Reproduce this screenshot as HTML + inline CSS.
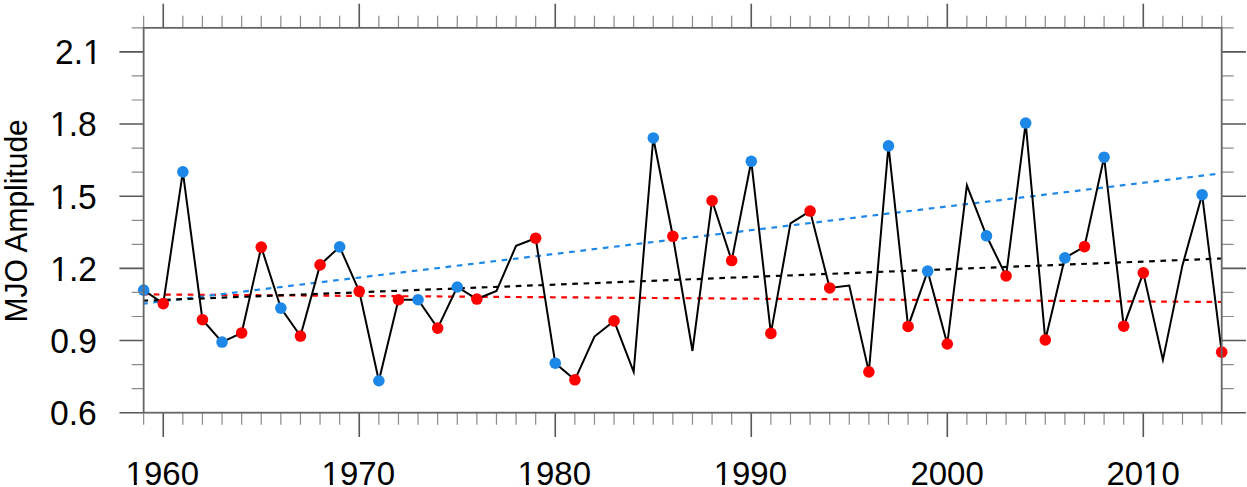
<!DOCTYPE html><html><head><meta charset="utf-8"><style>html,body{margin:0;padding:0;background:#fff;}svg{display:block;}text{font-family:"Liberation Sans",sans-serif;fill:#000;}</style></head><body>
<svg width="1247" height="487" viewBox="0 0 1247 487">
<line x1="143.65" y1="294.4" x2="1221.7" y2="302.0" stroke="#ff0000" stroke-dashoffset="1.2" stroke-dasharray="5.66 5.66" stroke-width="2.2" fill="none"/>
<line x1="143.65" y1="303.6" x2="1221.7" y2="173.3" stroke="#1e88e8" stroke-dashoffset="1.6" stroke-dasharray="5.66 5.66" stroke-width="2.2" fill="none"/>
<line x1="143.65" y1="300.7" x2="1221.7" y2="258.5" stroke="#000" stroke-dashoffset="1.2" stroke-dasharray="5.66 5.66" stroke-width="2.2" fill="none"/>
<polyline points="143.65,290.14 163.25,303.6 182.85,171.86 202.45,319.71 222.05,342.06 241.65,332.93 261.26,247.1 280.86,308.17 300.46,336.05 320.06,264.89 339.66,246.86 359.26,291.34 378.86,380.77 398.46,299.75 418.06,299.75 437.66,328.12 457.26,287.01 476.87,299.03 496.47,290.86 516.07,245.9 535.67,238.21 555.27,363.22 574.87,379.81 594.47,336.53 614.07,320.91 633.67,371.87 653.27,137.96 672.87,236.29 692.48,350.96 712.08,200.71 731.68,260.57 751.28,161.28 770.88,333.41 790.48,223.31 810.08,211.04 829.68,287.97 849.28,285.57 868.88,371.87 888.48,145.9 908.09,326.44 927.69,271.14 947.29,343.99 966.89,185.32 986.49,235.81 1006.09,275.95 1025.69,123.06 1045.29,339.9 1064.89,257.92 1084.49,246.62 1104.09,157.2 1123.7,326.2 1143.3,272.83 1162.9,359.85 1182.5,265.13 1202.1,194.7 1221.7,352.16" fill="none" stroke="#000" stroke-width="2" stroke-linejoin="miter" stroke-miterlimit="5"/>
<circle cx="143.65" cy="290.14" r="5.8" fill="#1e88e8"/>
<circle cx="163.25" cy="303.6" r="5.8" fill="#ff0000"/>
<circle cx="182.85" cy="171.86" r="5.8" fill="#1e88e8"/>
<circle cx="202.45" cy="319.71" r="5.8" fill="#ff0000"/>
<circle cx="222.05" cy="342.06" r="5.8" fill="#1e88e8"/>
<circle cx="241.65" cy="332.93" r="5.8" fill="#ff0000"/>
<circle cx="261.26" cy="247.1" r="5.8" fill="#ff0000"/>
<circle cx="280.86" cy="308.17" r="5.8" fill="#1e88e8"/>
<circle cx="300.46" cy="336.05" r="5.8" fill="#ff0000"/>
<circle cx="320.06" cy="264.89" r="5.8" fill="#ff0000"/>
<circle cx="339.66" cy="246.86" r="5.8" fill="#1e88e8"/>
<circle cx="359.26" cy="291.34" r="5.8" fill="#ff0000"/>
<circle cx="378.86" cy="380.77" r="5.8" fill="#1e88e8"/>
<circle cx="398.46" cy="299.75" r="5.8" fill="#ff0000"/>
<circle cx="418.06" cy="299.75" r="5.8" fill="#1e88e8"/>
<circle cx="437.66" cy="328.12" r="5.8" fill="#ff0000"/>
<circle cx="457.26" cy="287.01" r="5.8" fill="#1e88e8"/>
<circle cx="476.87" cy="299.03" r="5.8" fill="#ff0000"/>
<circle cx="535.67" cy="238.21" r="5.8" fill="#ff0000"/>
<circle cx="555.27" cy="363.22" r="5.8" fill="#1e88e8"/>
<circle cx="574.87" cy="379.81" r="5.8" fill="#ff0000"/>
<circle cx="614.07" cy="320.91" r="5.8" fill="#ff0000"/>
<circle cx="653.27" cy="137.96" r="5.8" fill="#1e88e8"/>
<circle cx="672.87" cy="236.29" r="5.8" fill="#ff0000"/>
<circle cx="712.08" cy="200.71" r="5.8" fill="#ff0000"/>
<circle cx="731.68" cy="260.57" r="5.8" fill="#ff0000"/>
<circle cx="751.28" cy="161.28" r="5.8" fill="#1e88e8"/>
<circle cx="770.88" cy="333.41" r="5.8" fill="#ff0000"/>
<circle cx="810.08" cy="211.04" r="5.8" fill="#ff0000"/>
<circle cx="829.68" cy="287.97" r="5.8" fill="#ff0000"/>
<circle cx="868.88" cy="371.87" r="5.8" fill="#ff0000"/>
<circle cx="888.48" cy="145.9" r="5.8" fill="#1e88e8"/>
<circle cx="908.09" cy="326.44" r="5.8" fill="#ff0000"/>
<circle cx="927.69" cy="271.14" r="5.8" fill="#1e88e8"/>
<circle cx="947.29" cy="343.99" r="5.8" fill="#ff0000"/>
<circle cx="986.49" cy="235.81" r="5.8" fill="#1e88e8"/>
<circle cx="1006.09" cy="275.95" r="5.8" fill="#ff0000"/>
<circle cx="1025.69" cy="123.06" r="5.8" fill="#1e88e8"/>
<circle cx="1045.29" cy="339.9" r="5.8" fill="#ff0000"/>
<circle cx="1064.89" cy="257.92" r="5.8" fill="#1e88e8"/>
<circle cx="1084.49" cy="246.62" r="5.8" fill="#ff0000"/>
<circle cx="1104.09" cy="157.2" r="5.8" fill="#1e88e8"/>
<circle cx="1123.7" cy="326.2" r="5.8" fill="#ff0000"/>
<circle cx="1143.3" cy="272.83" r="5.8" fill="#ff0000"/>
<circle cx="1202.1" cy="194.7" r="5.8" fill="#1e88e8"/>
<circle cx="1221.7" cy="352.16" r="5.8" fill="#ff0000"/>
<path d="M143.65 412.7V424.7M143.65 27.85V15.85M182.85 412.7V424.7M182.85 27.85V15.85M202.45 412.7V424.7M202.45 27.85V15.85M222.05 412.7V424.7M222.05 27.85V15.85M241.65 412.7V424.7M241.65 27.85V15.85M261.26 412.7V424.7M261.26 27.85V15.85M280.86 412.7V424.7M280.86 27.85V15.85M300.46 412.7V424.7M300.46 27.85V15.85M320.06 412.7V424.7M320.06 27.85V15.85M339.66 412.7V424.7M339.66 27.85V15.85M378.86 412.7V424.7M378.86 27.85V15.85M398.46 412.7V424.7M398.46 27.85V15.85M418.06 412.7V424.7M418.06 27.85V15.85M437.66 412.7V424.7M437.66 27.85V15.85M457.26 412.7V424.7M457.26 27.85V15.85M476.87 412.7V424.7M476.87 27.85V15.85M496.47 412.7V424.7M496.47 27.85V15.85M516.07 412.7V424.7M516.07 27.85V15.85M535.67 412.7V424.7M535.67 27.85V15.85M574.87 412.7V424.7M574.87 27.85V15.85M594.47 412.7V424.7M594.47 27.85V15.85M614.07 412.7V424.7M614.07 27.85V15.85M633.67 412.7V424.7M633.67 27.85V15.85M653.27 412.7V424.7M653.27 27.85V15.85M672.87 412.7V424.7M672.87 27.85V15.85M692.48 412.7V424.7M692.48 27.85V15.85M712.08 412.7V424.7M712.08 27.85V15.85M731.68 412.7V424.7M731.68 27.85V15.85M770.88 412.7V424.7M770.88 27.85V15.85M790.48 412.7V424.7M790.48 27.85V15.85M810.08 412.7V424.7M810.08 27.85V15.85M829.68 412.7V424.7M829.68 27.85V15.85M849.28 412.7V424.7M849.28 27.85V15.85M868.88 412.7V424.7M868.88 27.85V15.85M888.48 412.7V424.7M888.48 27.85V15.85M908.09 412.7V424.7M908.09 27.85V15.85M927.69 412.7V424.7M927.69 27.85V15.85M966.89 412.7V424.7M966.89 27.85V15.85M986.49 412.7V424.7M986.49 27.85V15.85M1006.09 412.7V424.7M1006.09 27.85V15.85M1025.69 412.7V424.7M1025.69 27.85V15.85M1045.29 412.7V424.7M1045.29 27.85V15.85M1064.89 412.7V424.7M1064.89 27.85V15.85M1084.49 412.7V424.7M1084.49 27.85V15.85M1104.09 412.7V424.7M1104.09 27.85V15.85M1123.7 412.7V424.7M1123.7 27.85V15.85M1162.9 412.7V424.7M1162.9 27.85V15.85M1182.5 412.7V424.7M1182.5 27.85V15.85M1202.1 412.7V424.7M1202.1 27.85V15.85M1221.7 412.7V424.7M1221.7 27.85V15.85M143.65 388.65H131.65M1221.7 388.65H1233.7M143.65 364.59H131.65M1221.7 364.59H1233.7M143.65 316.49H131.65M1221.7 316.49H1233.7M143.65 292.43H131.65M1221.7 292.43H1233.7M143.65 244.33H131.65M1221.7 244.33H1233.7M143.65 220.28H131.65M1221.7 220.28H1233.7M143.65 172.17H131.65M1221.7 172.17H1233.7M143.65 148.12H131.65M1221.7 148.12H1233.7M143.65 100.01H131.65M1221.7 100.01H1233.7M143.65 75.96H131.65M1221.7 75.96H1233.7M143.65 27.85H131.65M1221.7 27.85H1233.7" stroke="#8a8a8a" stroke-width="1.2" fill="none"/>
<path d="M163.25 412.7V436.9M163.25 27.85V3.65M359.26 412.7V436.9M359.26 27.85V3.65M555.27 412.7V436.9M555.27 27.85V3.65M751.28 412.7V436.9M751.28 27.85V3.65M947.29 412.7V436.9M947.29 27.85V3.65M1143.3 412.7V436.9M1143.3 27.85V3.65M143.65 412.7H119.45M1221.7 412.7H1245.9M143.65 340.54H119.45M1221.7 340.54H1245.9M143.65 268.38H119.45M1221.7 268.38H1245.9M143.65 196.22H119.45M1221.7 196.22H1245.9M143.65 124.06H119.45M1221.7 124.06H1245.9M143.65 51.9H119.45M1221.7 51.9H1245.9" stroke="#575757" stroke-width="1.6" fill="none"/>
<rect x="143.65" y="27.85" width="1078.05" height="384.85" fill="none" stroke="#666" stroke-width="1.8"/>
<g transform="translate(50.07,425.1) scale(0.016406,0.017063)"><text x="0" y="0" font-size="2048">0.6</text></g>
<g transform="translate(50.18,352.94) scale(0.016406,0.017063)"><text x="0" y="0" font-size="2048">0.9</text></g>
<g transform="translate(50.28,280.78) scale(0.016406,0.017063)"><text x="0" y="0" font-size="2048">1.2</text><path d="M100 60H514V-215H100ZM697 60H1100V-215H697Z" fill="#fff"/></g>
<g transform="translate(50,208.62) scale(0.016406,0.017063)"><text x="0" y="0" font-size="2048">1.5</text><path d="M100 60H514V-215H100ZM697 60H1100V-215H697Z" fill="#fff"/></g>
<g transform="translate(50.05,136.46) scale(0.016406,0.017063)"><text x="0" y="0" font-size="2048">1.8</text><path d="M100 60H514V-215H100ZM697 60H1100V-215H697Z" fill="#fff"/></g>
<g transform="translate(55.06,64.3) scale(0.016406,0.017063)"><text x="0" y="0" font-size="2048">2.1</text><path d="M1808 60H2222V-215H1808ZM2405 60H2808V-215H2405Z" fill="#fff"/></g>
<g transform="translate(125.6,484.8) scale(0.016113,0.016355)"><text x="0" y="0" font-size="2048">1960</text><path d="M100 60H514V-215H100ZM697 60H1100V-215H697Z" fill="#fff"/></g>
<g transform="translate(321.61,484.8) scale(0.016113,0.016355)"><text x="0" y="0" font-size="2048">1970</text><path d="M100 60H514V-215H100ZM697 60H1100V-215H697Z" fill="#fff"/></g>
<g transform="translate(517.62,484.8) scale(0.016113,0.016355)"><text x="0" y="0" font-size="2048">1980</text><path d="M100 60H514V-215H100ZM697 60H1100V-215H697Z" fill="#fff"/></g>
<g transform="translate(713.63,484.8) scale(0.016113,0.016355)"><text x="0" y="0" font-size="2048">1990</text><path d="M100 60H514V-215H100ZM697 60H1100V-215H697Z" fill="#fff"/></g>
<g transform="translate(910.4,484.8) scale(0.016113,0.016355)"><text x="0" y="0" font-size="2048">2000</text></g>
<g transform="translate(1106.41,484.8) scale(0.016113,0.016355)"><text x="0" y="0" font-size="2048">2010</text><path d="M2378 60H2792V-215H2378ZM2975 60H3378V-215H2975Z" fill="#fff"/></g>
<text transform="translate(26.6,220.9) rotate(-90) scale(1,1.07)" font-size="30" text-anchor="middle">MJO Amplitude</text>
</svg></body></html>
